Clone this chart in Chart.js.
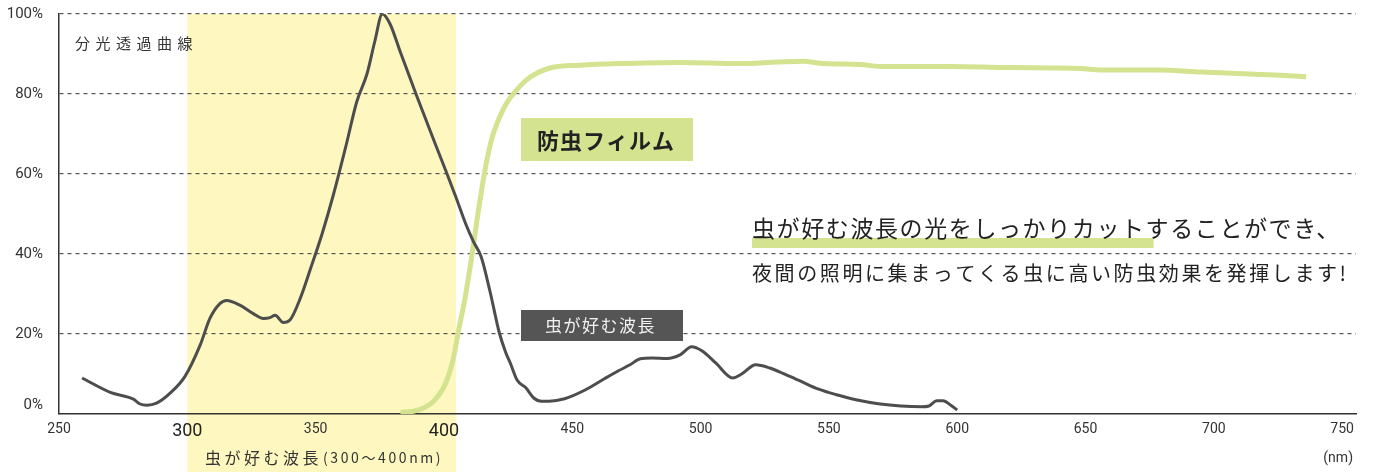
<!DOCTYPE html>
<html><head><meta charset="utf-8">
<script src="https://cdn.jsdelivr.net/npm/chart.js@4.4.0/dist/chart.umd.min.js"></script>
<style>html,body{margin:0;padding:0;background:#fff}#wrap{width:1373px;height:472px}</style>
</head><body><div id="wrap"><canvas id="c" width="1373" height="472"></canvas></div>
<script>
// ---- data ----
const insectNm = [259, 270, 279, 281.6, 284.2, 288, 293.3, 299.1, 305, 308.8, 312.7, 315.3, 320.5, 325.7, 329.6, 332.2, 334.2, 337.4, 340, 344, 348, 352.5, 357, 362, 366, 370, 373, 376, 379, 383, 389.4, 395.9, 400, 404.5, 408.5, 411.5, 414.5, 418, 421.5, 424, 426, 428.5, 432, 435, 438, 441, 447, 455, 462.5, 468, 472.5, 476.5, 481, 487, 492, 496.5, 500.5, 506, 512.5, 516, 521.5, 527, 533, 539, 546, 553, 561, 570, 578, 586, 589, 592, 594.5, 597.5, 600];
const insectPct = [9.0, 5.4, 3.7, 2.5, 2.2, 2.7, 5.2, 9.4, 17.2, 23.9, 27.6, 28.4, 27.2, 25.1, 23.9, 24.1, 24.7, 22.9, 23.5, 28.9, 36.3, 45, 55, 67.5, 78, 85, 93, 100, 97.5, 90.5, 79.5, 68.7, 62, 54.5, 47.5, 43.1, 39.3, 30.5, 20.5, 15.5, 12.5, 8.5, 6.5, 4.0, 3.2, 3.2, 3.8, 6.0, 8.8, 10.8, 12.3, 13.8, 14.0, 13.9, 14.8, 16.8, 15.8, 12.7, 9.0, 10.0, 12.3, 11.5, 9.9, 8.2, 6.2, 4.8, 3.5, 2.5, 2.0, 1.8, 2.0, 3.3, 3.3, 2.2, 1.0];
const filmNm = [383, 388, 392, 396, 399.8, 402, 403.7, 405.6, 408.2, 410.5, 413, 416, 418.6, 421.9, 424.5, 427, 432.3, 441.3, 453, 468, 492, 515, 530, 540, 548, 562, 570, 597, 620, 648, 656, 679, 695, 714, 734, 736];
const filmPct = [0.4, 0.7, 1.5, 3.2, 6.5, 10, 14, 20.6, 28.9, 38, 49, 61, 68.7, 74.5, 77.8, 80, 83.6, 86.5, 87.2, 87.6, 87.9, 87.6, 88.0, 88.2, 87.6, 87.4, 86.9, 86.9, 86.6, 86.4, 86.0, 86.0, 85.5, 85.0, 84.4, 84.3];
const xTickValues = [250, 300, 350, 400, 450, 500, 550, 600, 650, 700, 750];
const xMajorTicks = [300, 400];
const yTickValues = [0, 20, 40, 60, 80, 100];
const favoredBand = [300, 404.7];
const seriesNames = ['虫が好む波長', '防虫フィルム'];
const chartTitle = '分光透過曲線';
const bandLabel = '虫が好む波長';
const bandRangeLabel = '(300〜400nm)';
const unitLabel = '(nm)';
const messageLine1 = '虫が好む波長の光をしっかりカットすることができ、';
const messageHighlight = '虫が好む波長の光をしっかりカット';
const messageLine2 = '夜間の照明に集まってくる虫に高い防虫効果を発揮します!';

const JP = '"Noto Sans CJK JP", "Noto Sans", sans-serif';
const NUM = 'Roboto, "Noto Sans", sans-serif';
const GREEN = '#d3e390';
const GRAY = '#4d4d4d';

const toXY = (xs, ys) => xs.map((x, i) => ({x, y: ys[i]}));
const isMajor = c => c.tick && xMajorTicks.includes(c.tick.value);

const decor = {
  id: 'decor',
  beforeDraw(chart) {
    const {ctx, scales: {x, y}} = chart;
    ctx.save();
    ctx.fillStyle = '#fff';
    ctx.fillRect(0, 0, chart.width, chart.height);
    const x0 = x.getPixelForValue(favoredBand[0]);
    const x1 = x.getPixelForValue(favoredBand[1]);
    const yt = y.getPixelForValue(100);
    ctx.fillStyle = '#fef8c0';
    ctx.fillRect(x0, yt, x1 - x0, chart.height - yt);
    ctx.restore();
  },
  afterDraw(chart) {
    const {ctx, scales: {x, y}} = chart;
    ctx.save();
    // y tick labels
    ctx.font = '15px ' + NUM;
    ctx.fillStyle = '#333';
    ctx.textAlign = 'right';
    ctx.textBaseline = 'middle';
    yTickValues.forEach(v => {
      const py = y.getPixelForValue(v) + (v === 0 ? -9 : 0);
      ctx.fillText(v + '%', 43, py);
    });
    // title
    ctx.textAlign = 'left';
    ctx.font = '15px ' + JP;
    ctx.letterSpacing = '5.5px';
    ctx.fillText(chartTitle, 75, 43);
    // bottom band label
    ctx.font = '16px ' + JP;
    ctx.letterSpacing = '3.5px';
    ctx.fillStyle = '#333';
    ctx.fillText(bandLabel, 205, 458);
    const w1 = ctx.measureText(bandLabel).width;
    ctx.font = '14px ' + JP;
    ctx.letterSpacing = '2.6px';
    ctx.fillText(bandRangeLabel, 205 + w1 + 1, 458);
    // unit
    ctx.letterSpacing = '0px';
    ctx.font = '14px ' + NUM;
    ctx.textAlign = 'right';
    ctx.fillText(unitLabel, 1353, 458);
    // film label box
    ctx.textAlign = 'left';
    ctx.fillStyle = GREEN;
    ctx.fillRect(521, 118, 172, 43);
    ctx.fillStyle = '#222';
    ctx.font = 'bold 22px ' + JP;
    ctx.letterSpacing = '1px';
    ctx.fillText(seriesNames[1], 537, 141);
    // insect label box
    ctx.fillStyle = '#555555';
    ctx.fillRect(521, 310, 162, 31);
    ctx.fillStyle = '#f2f2f2';
    ctx.font = '17px ' + JP;
    ctx.letterSpacing = '1.5px';
    ctx.fillText(seriesNames[0], 545, 326);
    // message
    ctx.font = '23px ' + JP;
    ctx.letterSpacing = '1.6px';
    const hw = ctx.measureText(messageHighlight).width;
    ctx.fillStyle = GREEN;
    ctx.fillRect(752, 238, hw + 8, 10);
    ctx.fillStyle = '#222';
    ctx.fillText(messageLine1, 752, 228);
    ctx.font = '20px ' + JP;
    ctx.letterSpacing = '2.6px';
    ctx.fillText(messageLine2, 752, 273);
    ctx.restore();
  }
};

new Chart(document.getElementById('c'), {
  type: 'line',
  data: {
    datasets: [
      {label: seriesNames[0], data: toXY(insectNm, insectPct), borderColor: GRAY, borderWidth: 3, pointRadius: 0, cubicInterpolationMode: 'monotone', fill: false},
      {label: seriesNames[1], data: toXY(filmNm, filmPct), borderColor: GREEN, borderWidth: 5, pointRadius: 0, cubicInterpolationMode: 'monotone', fill: false}
    ]
  },
  options: {
    responsive: false,
    animation: false,
    devicePixelRatio: 1,
    layout: {padding: {left: 0, right: 17, top: 14, bottom: 0}},
    plugins: {legend: {display: false}, tooltip: {enabled: false}},
    scales: {
      x: {
        type: 'linear', min: 250, max: 755.4,
        afterBuildTicks: s => { s.ticks = xTickValues.map(v => ({value: v})); },
        afterFit: s => { s.height = 58; },
        grid: {display: false, drawTicks: false},
        border: {display: true, color: '#333', width: 1.5},
        ticks: {
          padding: 7,
          maxRotation: 0,
          autoSkip: false,
          color: c => isMajor(c) ? '#222' : '#333',
          font: c => isMajor(c) ? {family: NUM, size: 18} : {family: NUM, size: 14}
        }
      },
      y: {
        type: 'linear', min: 0, max: 100,
        afterBuildTicks: s => { s.ticks = yTickValues.map(v => ({value: v})); },
        afterFit: s => { s.width = 59; },
        ticks: {display: false},
        grid: {
          drawTicks: false,
          color: c => (c.tick && c.tick.value === 0) ? 'rgba(0,0,0,0)' : '#555',
          lineWidth: 1.2
        },
        border: {display: true, color: '#333', width: 1.5, dash: [4, 4]}
      }
    }
  },
  plugins: [decor]
});
</script>
</body></html>
